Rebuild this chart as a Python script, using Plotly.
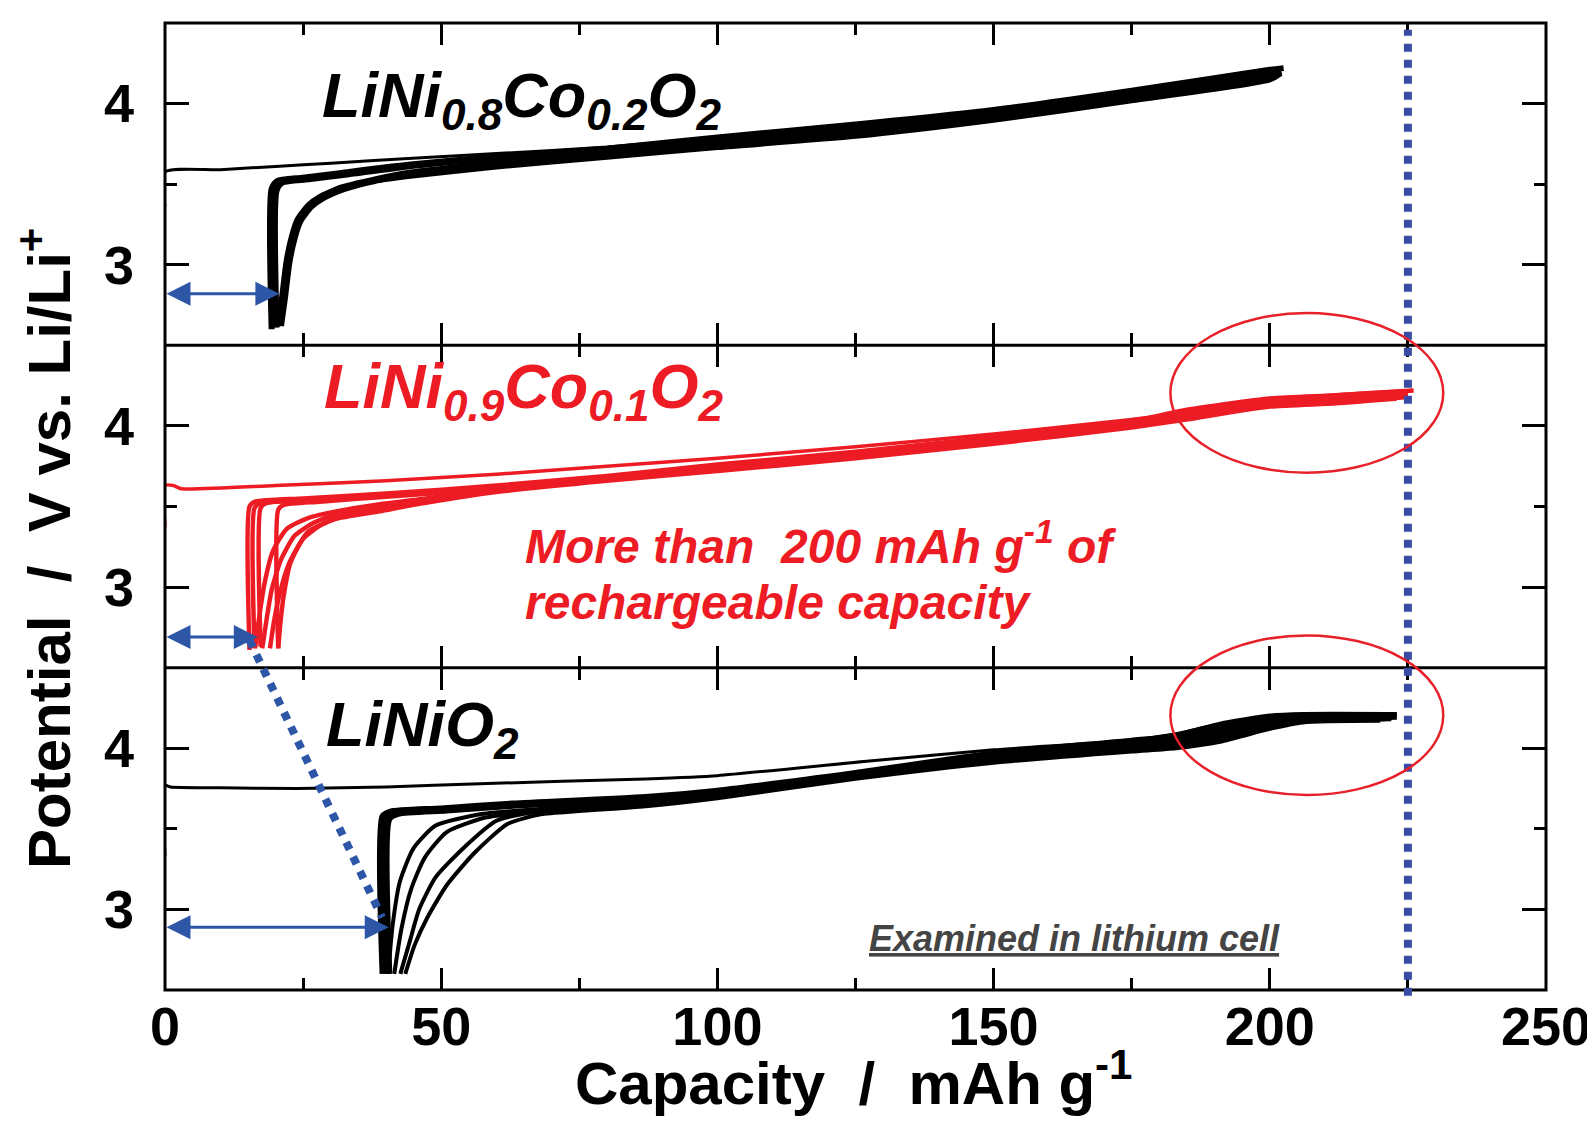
import plotly.graph_objects as go

# ---------------- data (capacity mAh/g, potential V) ----------------
# Panel 1: LiNi0.8Co0.2O2
p1_first_c = [0, 0, 10, 20, 30, 44, 60, 80, 100, 125, 150, 175, 200, 202]
p1_first_v = [3.36, 3.575, 3.59, 3.61, 3.63, 3.66, 3.69, 3.73, 3.79, 3.86, 3.95, 4.07, 4.20, 4.22]
p1_chg_a_c = [19.3, 19.3, 20.3, 25, 32, 44, 60, 80, 100, 125, 150, 175, 200, 202.5]
p1_chg_a_v = [2.60, 3.47, 3.52, 3.54, 3.57, 3.62, 3.67, 3.72, 3.79, 3.87, 3.96, 4.08, 4.21, 4.22]
p1_chg_b_c = [20.2, 20.2, 21.2, 26, 33, 44, 60, 80, 100, 125, 150, 175, 200, 202]
p1_chg_b_v = [2.61, 3.46, 3.51, 3.53, 3.56, 3.61, 3.66, 3.71, 3.77, 3.85, 3.94, 4.06, 4.19, 4.21]
p1_dis_a_c = [202, 200, 175, 150, 125, 100, 80, 60, 44, 38, 32, 28, 26, 24, 23, 22, 21.2, 20.4]
p1_dis_a_v = [4.20, 4.17, 4.04, 3.92, 3.82, 3.75, 3.69, 3.63, 3.57, 3.53, 3.48, 3.42, 3.37, 3.28, 3.18, 3.02, 2.80, 2.62]
p1_dis_b_c = [202, 200, 175, 150, 125, 100, 80, 60, 44, 38, 32.5, 28.5, 26.5, 24.5, 23.5, 22.5, 21.7, 21.0]
p1_dis_b_v = [4.19, 4.15, 4.02, 3.90, 3.80, 3.73, 3.67, 3.61, 3.55, 3.52, 3.47, 3.41, 3.36, 3.27, 3.17, 3.01, 2.79, 2.62]

# Panel 2: LiNi0.9Co0.1O2
p2_first_c = [0, 0, 1.5, 3, 20, 40, 60, 80, 100, 125, 150, 175, 190, 200, 215, 226]
p2_first_v = [3.37, 3.63, 3.63, 3.61, 3.63, 3.66, 3.70, 3.75, 3.80, 3.87, 3.95, 4.04, 4.10, 4.16, 4.20, 4.22]
p2_chg_a_c = [15.3, 15.3, 16.3, 25, 40, 60, 80, 100, 125, 150, 175, 185, 200, 212, 226]
p2_chg_a_v = [2.61, 3.50, 3.53, 3.55, 3.58, 3.63, 3.69, 3.76, 3.84, 3.93, 4.03, 4.10, 4.17, 4.19, 4.22]
p2_chg_b_c = [16.2, 16.2, 17.2, 25, 40, 60, 80, 100, 125, 150, 175, 185, 200, 212, 225]
p2_chg_b_v = [2.62, 3.49, 3.52, 3.54, 3.57, 3.62, 3.68, 3.75, 3.83, 3.92, 4.02, 4.09, 4.16, 4.18, 4.21]
p2_chg_c_c = [17.3, 17.3, 18.3, 26, 40, 60, 80, 100, 125, 150, 175, 185, 200, 212, 225]
p2_chg_c_v = [2.63, 3.49, 3.52, 3.54, 3.57, 3.62, 3.68, 3.75, 3.83, 3.92, 4.02, 4.09, 4.16, 4.18, 4.21]
p2_chg_d_c = [20.5, 20.5, 21.5, 28, 40, 60, 80, 100, 125, 150, 175, 185, 200, 212, 224]
p2_chg_d_v = [2.62, 3.48, 3.51, 3.53, 3.56, 3.61, 3.67, 3.74, 3.82, 3.91, 4.01, 4.08, 4.15, 4.18, 4.20]
p2_dis_a_c = [225, 212, 200, 185, 175, 150, 125, 100, 80, 60, 45, 38, 31, 26, 22, 19.5, 18, 17, 16.3]
p2_dis_a_v = [4.19, 4.16, 4.14, 4.06, 4.01, 3.91, 3.82, 3.74, 3.68, 3.61, 3.54, 3.51, 3.47, 3.43, 3.36, 3.22, 3.02, 2.80, 2.62]
p2_dis_b_c = [225, 212, 200, 185, 175, 150, 125, 100, 80, 60, 45, 38, 31, 27, 23.5, 21, 19.3, 18.3, 17.6]
p2_dis_b_v = [4.18, 4.15, 4.13, 4.05, 4.00, 3.90, 3.81, 3.73, 3.67, 3.60, 3.53, 3.49, 3.45, 3.40, 3.32, 3.17, 2.98, 2.78, 2.62]
p2_dis_c_c = [224, 212, 200, 185, 175, 150, 125, 100, 80, 60, 45, 38, 32, 28, 25, 22.5, 20.7, 19.7, 19.0]
p2_dis_c_v = [4.18, 4.15, 4.13, 4.05, 4.00, 3.90, 3.81, 3.73, 3.67, 3.60, 3.52, 3.48, 3.44, 3.38, 3.30, 3.15, 2.95, 2.78, 2.62]
p2_dis_d_c = [223, 212, 200, 185, 175, 150, 125, 100, 80, 60, 45, 38.9, 30.6, 25.8, 22.7, 21.5, 20.9, 20.5]
p2_dis_d_v = [4.17, 4.14, 4.12, 4.04, 3.99, 3.89, 3.80, 3.72, 3.66, 3.59, 3.51, 3.47, 3.42, 3.34, 3.15, 2.95, 2.78, 2.62]

# Panel 3: LiNiO2
p3_first_c = [0, 0, 1, 10, 24, 40, 57, 87, 100, 127, 150, 175, 183, 191, 200, 206, 223]
p3_first_v = [3.33, 3.77, 3.76, 3.755, 3.75, 3.76, 3.78, 3.81, 3.83, 3.92, 3.99, 4.05, 4.09, 4.15, 4.19, 4.20, 4.21]
p3_chg_a_c = [39.3, 39.3, 40.8, 50, 63, 87, 100, 125, 150, 175, 183, 191, 200, 206, 223]
p3_chg_a_v = [2.60, 3.58, 3.61, 3.63, 3.66, 3.70, 3.74, 3.85, 3.97, 4.05, 4.08, 4.15, 4.20, 4.21, 4.21]
p3_chg_b_c = [40.0, 40.0, 41.5, 50, 63, 87, 100, 125, 150, 175, 183, 191, 200, 206, 222]
p3_chg_b_v = [2.60, 3.57, 3.60, 3.62, 3.65, 3.69, 3.73, 3.84, 3.96, 4.04, 4.07, 4.13, 4.19, 4.20, 4.20]
p3_chg_c_c = [40.7, 40.7, 42.2, 51, 63, 87, 100, 125, 150, 175, 183, 191, 200, 206, 221]
p3_chg_c_v = [2.60, 3.56, 3.59, 3.61, 3.64, 3.68, 3.72, 3.83, 3.95, 4.03, 4.06, 4.11, 4.18, 4.19, 4.20]
p3_dis_a_c = [223, 206, 200, 191, 183, 175, 150, 125, 100, 87, 75, 63, 57, 49, 45, 42.5, 41.2, 40.4]
p3_dis_a_v = [4.19, 4.18, 4.17, 4.10, 4.04, 4.01, 3.94, 3.84, 3.72, 3.67, 3.64, 3.61, 3.59, 3.52, 3.38, 3.17, 2.90, 2.60]
p3_dis_b_c = [222, 206, 200, 191, 183, 175, 150, 125, 100, 87, 75, 65, 58, 51, 47, 44.5, 42.8, 41.5]
p3_dis_b_v = [4.18, 4.17, 4.16, 4.08, 4.03, 4.00, 3.93, 3.83, 3.71, 3.66, 3.63, 3.60, 3.57, 3.48, 3.32, 3.12, 2.88, 2.60]
p3_dis_c_c = [221, 206, 200, 191, 183, 175, 150, 125, 100, 87, 75, 66, 60, 54, 49, 46, 44.3, 42.6]
p3_dis_c_v = [4.18, 4.17, 4.14, 4.06, 4.01, 3.99, 3.92, 3.82, 3.70, 3.65, 3.62, 3.60, 3.55, 3.38, 3.20, 3.00, 2.80, 2.60]
p3_dis_d_c = [220, 206, 200, 191, 183, 175, 150, 125, 100, 87, 75, 68, 62, 56, 51, 47.5, 45.2, 43.5]
p3_dis_d_v = [4.17, 4.16, 4.12, 4.04, 4.00, 3.98, 3.91, 3.81, 3.69, 3.64, 3.61, 3.59, 3.53, 3.35, 3.15, 2.95, 2.78, 2.60]

# Irreversible-capacity arrows (capacity, potential) and reference marks
arrow_caps = [20.7, 16.8, 40.5]
arrow_volts = [2.82, 2.69, 2.89]
cutoff_capacity = 225
x_ticks = [0, 50, 100, 150, 200, 250]
y_ticks = [3, 4]

panel_labels = ["LiNi<sub>0.8</sub>Co<sub>0.2</sub>O<sub>2</sub>",
                "LiNi<sub>0.9</sub>Co<sub>0.1</sub>O<sub>2</sub>",
                "LiNiO<sub>2</sub>"]

BLACK = "#000000"
RED = "#ED1C24"
BLUE = "#2E56A7"
VBLUE = "#3A4BA3"
FONT = "Liberation Sans, Arial, sans-serif"

YR = [2.5, 4.5]
domains = [[2/3, 1.0], [1/3, 2/3], [0.0, 1/3]]

def py(v, panel):
    d0, d1 = domains[panel]
    return d0 + (v - YR[0]) / (YR[1] - YR[0]) * (d1 - d0)

def px(c):
    return c / 250.0

fig = go.Figure()

curves = [
    (0, p1_first_c, p1_first_v, BLACK, 3),
    (0, p1_chg_a_c, p1_chg_a_v, BLACK, 6),
    (0, p1_chg_b_c, p1_chg_b_v, BLACK, 6),
    (0, p1_dis_a_c, p1_dis_a_v, BLACK, 6),
    (0, p1_dis_b_c, p1_dis_b_v, BLACK, 6),
    (1, p2_first_c, p2_first_v, RED, 3.5),
    (1, p2_chg_a_c, p2_chg_a_v, RED, 4.5),
    (1, p2_chg_b_c, p2_chg_b_v, RED, 4.5),
    (1, p2_chg_c_c, p2_chg_c_v, RED, 4.5),
    (1, p2_chg_d_c, p2_chg_d_v, RED, 4.5),
    (1, p2_dis_a_c, p2_dis_a_v, RED, 4.5),
    (1, p2_dis_b_c, p2_dis_b_v, RED, 4.5),
    (1, p2_dis_c_c, p2_dis_c_v, RED, 4.5),
    (1, p2_dis_d_c, p2_dis_d_v, RED, 4.5),
    (2, p3_first_c, p3_first_v, BLACK, 3),
    (2, p3_chg_a_c, p3_chg_a_v, BLACK, 5),
    (2, p3_chg_b_c, p3_chg_b_v, BLACK, 5),
    (2, p3_chg_c_c, p3_chg_c_v, BLACK, 5),
    (2, p3_dis_a_c, p3_dis_a_v, BLACK, 4),
    (2, p3_dis_b_c, p3_dis_b_v, BLACK, 4),
    (2, p3_dis_c_c, p3_dis_c_v, BLACK, 4),
    (2, p3_dis_d_c, p3_dis_d_v, BLACK, 4),
]
axn = ["", "2", "3"]
for panel, c, v, col, w in curves:
    fig.add_trace(go.Scatter(x=c, y=v, mode="lines", xaxis="x" + axn[panel], yaxis="y" + axn[panel],
                             line=dict(color=col, width=w, shape="spline", smoothing=0.6),
                             showlegend=False, hoverinfo="skip"))

common_x = dict(range=[0, 250], tickvals=x_ticks, ticks="inside", ticklen=22, tickwidth=2.5,
                tickcolor="black", showline=False,
                mirror="allticks", showgrid=False, zeroline=False,
                minor=dict(dtick=25, tick0=0, ticklen=12, tickwidth=2.5, tickcolor="black",
                           ticks="inside", showgrid=False),
                tickfont=dict(family=FONT, size=54, color="black", weight="bold"))
common_y = dict(range=YR, tickvals=y_ticks, ticks="inside", ticklen=24, tickwidth=2.5,
                tickcolor="black", showline=False,
                mirror="allticks", showgrid=False, zeroline=False,
                minor=dict(dtick=0.5, tick0=2.5, ticklen=12, tickwidth=2.5, tickcolor="black",
                           ticks="inside", showgrid=False),
                tickfont=dict(family=FONT, size=54, color="black", weight="bold"),
                ticklabelstandoff=30)

layout = dict(width=1595, height=1124, margin=dict(l=157, r=50, t=15, b=142),
              plot_bgcolor="white", paper_bgcolor="white", showlegend=False)
layout["xaxis"] = dict(common_x, anchor="y", showticklabels=False)
layout["xaxis2"] = dict(common_x, anchor="y2", matches="x", showticklabels=False)
layout["xaxis3"] = dict(common_x, anchor="y3", matches="x", showticklabels=True, ticklabelstandoff=0)
layout["yaxis"] = dict(common_y, domain=domains[0], anchor="x")
layout["yaxis2"] = dict(common_y, domain=domains[1], anchor="x2")
layout["yaxis3"] = dict(common_y, domain=domains[2], anchor="x3")
fig.update_layout(**layout)

annotations = []
# panel labels
label_pos = [(0.1125, 0.921), (0.1135, 0.620), (0.115, 0.270)]
label_cols = [BLACK, RED, BLACK]
for (lx, ly), txt, col in zip(label_pos, panel_labels, label_cols):
    annotations.append(dict(x=lx, y=ly, xref="paper", yref="paper", text=txt, showarrow=False,
                            xanchor="left", yanchor="middle",
                            font=dict(family=FONT, size=63, color=col, weight="bold", style="italic")))
# red remark (two lines)
red_font = dict(family=FONT, size=48, color=RED, weight="bold", style="italic")
annotations.append(dict(x=0.2594, y=0.4623, xref="paper", yref="paper", showarrow=False,
                        text="More than\u00a0\u00a0200 mAh g<sup>-1</sup> of",
                        xanchor="left", yanchor="middle", font=red_font))
annotations.append(dict(x=0.2594, y=0.4003, xref="paper", yref="paper", showarrow=False,
                        text="rechargeable capacity",
                        xanchor="left", yanchor="middle", font=red_font))
annotations.append(dict(x=0.508, y=0.053, xref="paper", yref="paper", showarrow=False,
                        text="<u>Examined in lithium cell</u>", xanchor="left", yanchor="middle",
                        font=dict(family=FONT, size=36, color="#444444", weight="bold", style="italic")))
# axis titles
annotations.append(dict(x=-0.087, y=0.457, xref="paper", yref="paper", showarrow=False, textangle=-90,
                        text="Potential\u00a0\u00a0/\u00a0\u00a0V vs. Li/Li<sup>+</sup>",
                        xanchor="center", yanchor="middle",
                        font=dict(family=FONT, size=60, color="black", weight="bold")))
annotations.append(dict(x=0.4986, y=-0.092, xref="paper", yref="paper", showarrow=False,
                        text="Capacity\u00a0\u00a0/\u00a0\u00a0mAh g<sup>-1</sup>",
                        xanchor="center", yanchor="middle",
                        font=dict(family=FONT, size=60, color="black", weight="bold")))
# double arrows
for i in range(3):
    annotations.append(dict(x=arrow_caps[i], y=arrow_volts[i], ax=0, ay=arrow_volts[i],
                            xref="x" + axn[i], yref="y" + axn[i], axref="x" + axn[i], ayref="y" + axn[i],
                            showarrow=True, text="", arrowhead=2, startarrowhead=2, arrowside="end+start",
                            arrowsize=1.6, startarrowsize=1.6, arrowwidth=3, arrowcolor=BLUE))
fig.update_layout(annotations=annotations)

shapes = []
# panel frames (single-width lines at shared boundaries)
shapes.append(dict(type="rect", xref="paper", yref="paper", x0=0, x1=1, y0=0, y1=1,
                   line=dict(color="black", width=3), fillcolor="rgba(0,0,0,0)", layer="above"))
for b in (1/3, 2/3):
    shapes.append(dict(type="line", xref="paper", yref="paper", x0=0, x1=1, y0=b, y1=b,
                       line=dict(color="black", width=3), layer="above"))
# vertical dotted cut-off line
shapes.append(dict(type="line", xref="paper", yref="paper", x0=px(cutoff_capacity), x1=px(cutoff_capacity),
                   y0=-0.006, y1=0.993, line=dict(color=VBLUE, width=8, dash="dot")))
# diagonal dotted line between irreversible capacities
shapes.append(dict(type="line", xref="paper", yref="paper", x0=px(15.3), y0=py(2.67, 1),
                   x1=px(39.3), y1=py(2.95, 2), line=dict(color=BLUE, width=8, dash="dot")))
# red ellipses
for panel in (1, 2):
    shapes.append(dict(type="circle", xref="paper", yref="paper", x0=px(182), x1=px(231.4),
                       y0=py(3.71, panel), y1=py(4.70, panel), line=dict(color="#E8202A", width=2.5),
                       fillcolor="rgba(0,0,0,0)"))
fig.update_layout(shapes=shapes)

fig.write_html("out.html")
